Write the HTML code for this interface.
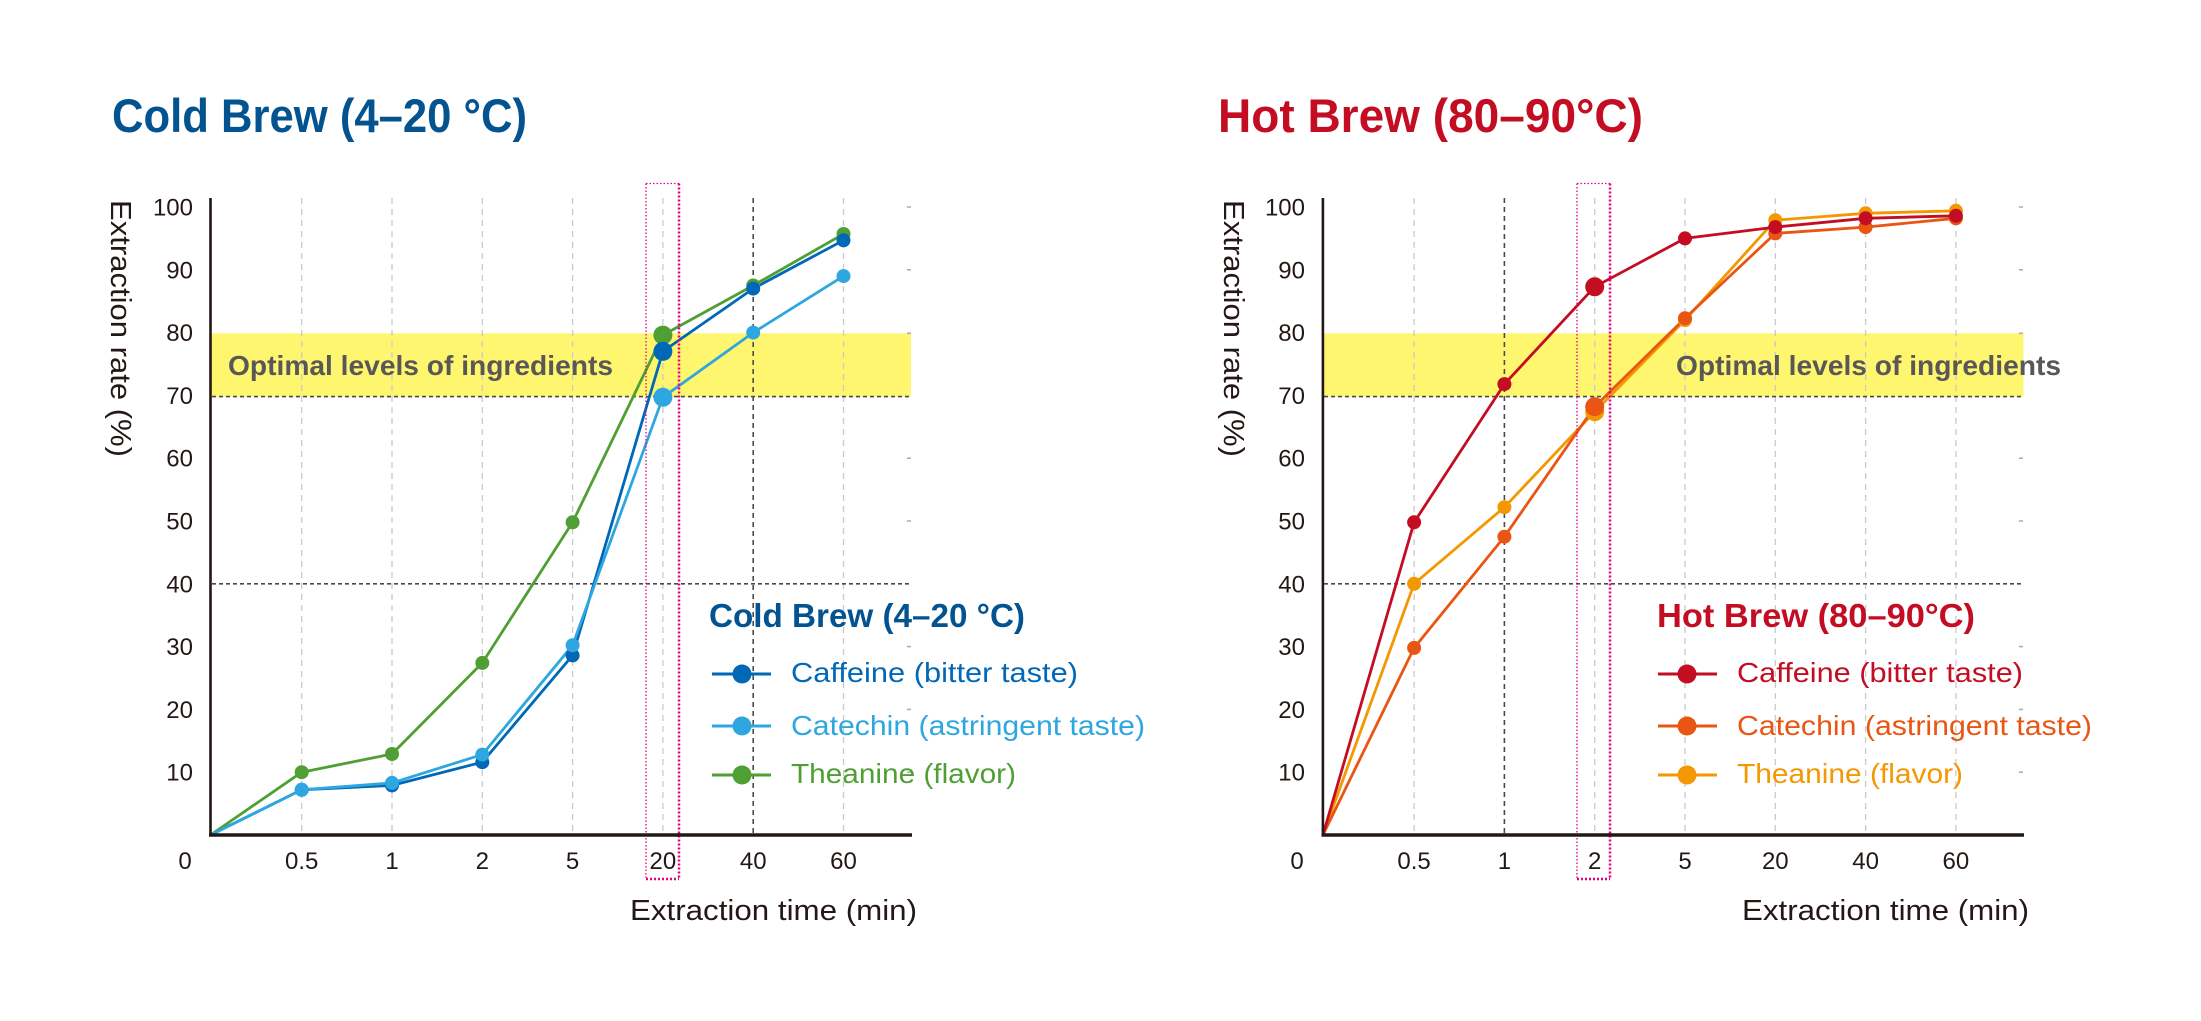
<!DOCTYPE html>
<html><head><meta charset="utf-8"><style>
html,body{margin:0;padding:0;background:#fff;}
svg{display:block;}
text{font-family:"Liberation Sans",sans-serif;}
</style></head><body>
<svg width="2201" height="1021" viewBox="0 0 2201 1021" xmlns="http://www.w3.org/2000/svg">
<rect width="2201" height="1021" fill="#fff"/>

<!-- ================= LEFT: COLD BREW ================= -->
<g id="cold">
<text x="112" y="132" font-size="47" font-weight="bold" fill="#035390" textLength="415" lengthAdjust="spacingAndGlyphs">Cold Brew (4–20 °C)</text>

<rect x="211" y="333.3" width="700" height="63.3" fill="#fff66f"/>

<g stroke="#c9caca" stroke-width="1.3" stroke-dasharray="6 5" fill="none">
<line x1="301.7" y1="198" x2="301.7" y2="835"/>
<line x1="392" y1="198" x2="392" y2="835"/>
<line x1="482.3" y1="198" x2="482.3" y2="835"/>
<line x1="572.6" y1="198" x2="572.6" y2="835"/>
<line x1="662.9" y1="198" x2="662.9" y2="835"/>
<line x1="843.5" y1="198" x2="843.5" y2="835"/>
</g>
<line x1="753.2" y1="198" x2="753.2" y2="835" stroke="#4a4a4a" stroke-width="1.6" stroke-dasharray="5 4"/>

<g stroke="#4a4a4a" stroke-width="1.6" stroke-dasharray="4 3">
<line x1="212" y1="396.6" x2="911" y2="396.6"/>
<line x1="212" y1="583.8" x2="911" y2="583.8"/>
</g>
<g stroke="#aaa" stroke-width="1.5">
<line x1="907" y1="207" x2="911" y2="207"/><line x1="907" y1="269.8" x2="911" y2="269.8"/>
<line x1="907" y1="333.3" x2="911" y2="333.3"/><line x1="907" y1="458.2" x2="911" y2="458.2"/>
<line x1="907" y1="521" x2="911" y2="521"/><line x1="907" y1="646.6" x2="911" y2="646.6"/>
<line x1="907" y1="709.4" x2="911" y2="709.4"/><line x1="907" y1="772.2" x2="911" y2="772.2"/>
</g>

<text x="228" y="375" font-size="28" font-weight="bold" fill="#595757" textLength="385" lengthAdjust="spacingAndGlyphs">Optimal levels of ingredients</text>

<g fill="none" stroke-width="2.8" stroke-linejoin="round">
<polyline stroke="#4f9f35" points="210.5,835 301.7,772.2 392,754 482.3,662.9 572.6,522.3 662.9,335.1 753.2,285.5 843.5,234"/>
<polyline stroke="#0068b7" points="210.5,835 301.7,789.8 392,785.4 482.3,762.2 572.6,655.4 662.9,351.4 753.2,288.6 843.5,240.3"/>
<polyline stroke="#2ea7e0" points="210.5,835 301.7,789.8 392,782.9 482.3,754.6 572.6,645.3 662.9,397.3 753.2,332.6 843.5,276.1"/>
</g>
<g fill="#4f9f35">
<circle cx="301.7" cy="772.2" r="7"/><circle cx="392" cy="754" r="7"/><circle cx="482.3" cy="662.9" r="7"/><circle cx="572.6" cy="522.3" r="7"/><circle cx="662.9" cy="335.1" r="9.5"/><circle cx="753.2" cy="285.5" r="7"/><circle cx="843.5" cy="234" r="7"/>
</g>
<g fill="#0068b7">
<circle cx="301.7" cy="789.8" r="7"/><circle cx="392" cy="785.4" r="7"/><circle cx="482.3" cy="762.2" r="7"/><circle cx="572.6" cy="655.4" r="7"/><circle cx="662.9" cy="351.4" r="9.5"/><circle cx="753.2" cy="288.6" r="7"/><circle cx="843.5" cy="240.3" r="7"/>
</g>
<g fill="#2ea7e0">
<circle cx="301.7" cy="789.8" r="7"/><circle cx="392" cy="782.9" r="7"/><circle cx="482.3" cy="754.6" r="7"/><circle cx="572.6" cy="645.3" r="7"/><circle cx="662.9" cy="397.3" r="9.5"/><circle cx="753.2" cy="332.6" r="7"/><circle cx="843.5" cy="276.1" r="7"/>
</g>

<g stroke="#e4007f" fill="none">
<line x1="646" y1="183.5" x2="679" y2="183.5" stroke-width="1.3" stroke-dasharray="1.5 2"/>
<line x1="646" y1="183.5" x2="646" y2="879" stroke-width="1.3" stroke-dasharray="1.5 2"/>
<line x1="679" y1="183.5" x2="679" y2="879" stroke-width="2.5" stroke-dasharray="2 2"/>
<line x1="646" y1="879" x2="679" y2="879" stroke-width="2.5" stroke-dasharray="2 2"/>
</g>

<line x1="210.5" y1="198" x2="210.5" y2="836" stroke="#231815" stroke-width="2.6"/>
<line x1="209" y1="835" x2="912" y2="835" stroke="#231815" stroke-width="3.6"/>

<g font-size="24" fill="#231815" text-anchor="end">
<text x="193" y="215.5">100</text><text x="193" y="278.3">90</text><text x="193" y="341.1">80</text><text x="193" y="403.9">70</text><text x="193" y="466.7">60</text><text x="193" y="529.5">50</text><text x="193" y="592.3">40</text><text x="193" y="655.1">30</text><text x="193" y="717.9">20</text><text x="193" y="780.7">10</text>
</g>
<g font-size="24" fill="#231815" text-anchor="middle">
<text x="185" y="869">0</text><text x="301.7" y="869">0.5</text><text x="392" y="869">1</text><text x="482.3" y="869">2</text><text x="572.6" y="869">5</text><text x="662.9" y="869">20</text><text x="753.2" y="869">40</text><text x="843.5" y="869">60</text>
</g>
<text x="630" y="920" font-size="29" fill="#231815" textLength="287" lengthAdjust="spacingAndGlyphs">Extraction time (min)</text>
<text transform="translate(111,328.5) rotate(90)" text-anchor="middle" font-size="29" fill="#231815" textLength="257" lengthAdjust="spacingAndGlyphs">Extraction rate (%)</text>

<text x="709" y="627" font-size="33" font-weight="bold" fill="#035390" textLength="316" lengthAdjust="spacingAndGlyphs">Cold Brew (4–20 °C)</text>
<line x1="712" y1="674" x2="771" y2="674" stroke="#0068b7" stroke-width="3"/><circle cx="742" cy="674" r="9.5" fill="#0068b7"/>
<text x="791" y="682" font-size="28" fill="#0068b7" textLength="287" lengthAdjust="spacingAndGlyphs">Caffeine (bitter taste)</text>
<line x1="712" y1="726" x2="771" y2="726" stroke="#2ea7e0" stroke-width="3"/><circle cx="742" cy="726" r="9.5" fill="#2ea7e0"/>
<text x="791" y="735" font-size="28" fill="#2ea7e0" textLength="354" lengthAdjust="spacingAndGlyphs">Catechin (astringent taste)</text>
<line x1="712" y1="775" x2="771" y2="775" stroke="#4f9f35" stroke-width="3"/><circle cx="742" cy="775" r="9.5" fill="#4f9f35"/>
<text x="791" y="783" font-size="28" fill="#4f9f35" textLength="225" lengthAdjust="spacingAndGlyphs">Theanine (flavor)</text>
</g>

<!-- ================= RIGHT: HOT BREW ================= -->
<g id="hot">
<text x="1218" y="132" font-size="47" font-weight="bold" fill="#c30d23" textLength="425" lengthAdjust="spacingAndGlyphs">Hot Brew (80–90°C)</text>

<rect x="1323.4" y="333.3" width="700" height="63.3" fill="#fff66f"/>

<g stroke="#c9caca" stroke-width="1.3" stroke-dasharray="6 5" fill="none">
<line x1="1414.1" y1="198" x2="1414.1" y2="835"/>
<line x1="1594.7" y1="198" x2="1594.7" y2="835"/>
<line x1="1685" y1="198" x2="1685" y2="835"/>
<line x1="1775.3" y1="198" x2="1775.3" y2="835"/>
<line x1="1865.6" y1="198" x2="1865.6" y2="835"/>
<line x1="1955.9" y1="198" x2="1955.9" y2="835"/>
</g>
<line x1="1504.4" y1="198" x2="1504.4" y2="835" stroke="#4a4a4a" stroke-width="1.6" stroke-dasharray="5 4"/>

<g stroke="#4a4a4a" stroke-width="1.6" stroke-dasharray="4 3">
<line x1="1324" y1="396.6" x2="2023" y2="396.6"/>
<line x1="1324" y1="583.8" x2="2023" y2="583.8"/>
</g>
<g stroke="#aaa" stroke-width="1.5">
<line x1="2019" y1="207" x2="2023" y2="207"/><line x1="2019" y1="269.8" x2="2023" y2="269.8"/>
<line x1="2019" y1="333.3" x2="2023" y2="333.3"/><line x1="2019" y1="458.2" x2="2023" y2="458.2"/>
<line x1="2019" y1="521" x2="2023" y2="521"/><line x1="2019" y1="646.6" x2="2023" y2="646.6"/>
<line x1="2019" y1="709.4" x2="2023" y2="709.4"/><line x1="2019" y1="772.2" x2="2023" y2="772.2"/>
</g>

<text x="1676" y="375" font-size="28" font-weight="bold" fill="#595757" textLength="385" lengthAdjust="spacingAndGlyphs">Optimal levels of ingredients</text>

<g fill="none" stroke-width="2.8" stroke-linejoin="round">
<polyline stroke="#f39800" points="1322.9,835 1414.1,583.8 1504.4,507.2 1594.7,411.7 1685,320 1775.3,220.2 1865.6,213.3 1955.9,210.8"/>
<polyline stroke="#e95513" points="1322.9,835 1414.1,647.9 1504.4,536.7 1594.7,406.7 1685,318.2 1775.3,233.4 1865.6,227.1 1955.9,218.3"/>
<polyline stroke="#c30d23" points="1322.9,835 1414.1,522.3 1504.4,384.1 1594.7,286.8 1685,238.4 1775.3,227.1 1865.6,218.3 1955.9,215.8"/>
</g>
<g fill="#f39800">
<circle cx="1414.1" cy="583.8" r="7"/><circle cx="1504.4" cy="507.2" r="7"/><circle cx="1594.7" cy="411.7" r="9.5"/><circle cx="1685" cy="320" r="7"/><circle cx="1775.3" cy="220.2" r="7"/><circle cx="1865.6" cy="213.3" r="7"/><circle cx="1955.9" cy="210.8" r="7"/>
</g>
<g fill="#e95513">
<circle cx="1414.1" cy="647.9" r="7"/><circle cx="1504.4" cy="536.7" r="7"/><circle cx="1594.7" cy="406.7" r="9.5"/><circle cx="1685" cy="318.2" r="7"/><circle cx="1775.3" cy="233.4" r="7"/><circle cx="1865.6" cy="227.1" r="7"/><circle cx="1955.9" cy="218.3" r="7"/>
</g>
<g fill="#c30d23">
<circle cx="1414.1" cy="522.3" r="7"/><circle cx="1504.4" cy="384.1" r="7"/><circle cx="1594.7" cy="286.8" r="9.5"/><circle cx="1685" cy="238.4" r="7"/><circle cx="1775.3" cy="227.1" r="7"/><circle cx="1865.6" cy="218.3" r="7"/><circle cx="1955.9" cy="215.8" r="7"/>
</g>

<g stroke="#e4007f" fill="none">
<line x1="1577" y1="183.5" x2="1610" y2="183.5" stroke-width="1.3" stroke-dasharray="1.5 2"/>
<line x1="1577" y1="183.5" x2="1577" y2="879" stroke-width="1.3" stroke-dasharray="1.5 2"/>
<line x1="1610" y1="183.5" x2="1610" y2="879" stroke-width="2.5" stroke-dasharray="2 2"/>
<line x1="1577" y1="879" x2="1610" y2="879" stroke-width="2.5" stroke-dasharray="2 2"/>
</g>

<line x1="1322.9" y1="198" x2="1322.9" y2="836" stroke="#231815" stroke-width="2.6"/>
<line x1="1321.5" y1="835" x2="2024" y2="835" stroke="#231815" stroke-width="3.6"/>

<g font-size="24" fill="#231815" text-anchor="end">
<text x="1305" y="215.5">100</text><text x="1305" y="278.3">90</text><text x="1305" y="341.1">80</text><text x="1305" y="403.9">70</text><text x="1305" y="466.7">60</text><text x="1305" y="529.5">50</text><text x="1305" y="592.3">40</text><text x="1305" y="655.1">30</text><text x="1305" y="717.9">20</text><text x="1305" y="780.7">10</text>
</g>
<g font-size="24" fill="#231815" text-anchor="middle">
<text x="1297" y="869">0</text><text x="1414.1" y="869">0.5</text><text x="1504.4" y="869">1</text><text x="1594.7" y="869">2</text><text x="1685" y="869">5</text><text x="1775.3" y="869">20</text><text x="1865.6" y="869">40</text><text x="1955.9" y="869">60</text>
</g>
<text x="1742" y="920" font-size="29" fill="#231815" textLength="287" lengthAdjust="spacingAndGlyphs">Extraction time (min)</text>
<text transform="translate(1224,328.5) rotate(90)" text-anchor="middle" font-size="29" fill="#231815" textLength="257" lengthAdjust="spacingAndGlyphs">Extraction rate (%)</text>

<text x="1657" y="627" font-size="33" font-weight="bold" fill="#c30d23" textLength="318" lengthAdjust="spacingAndGlyphs">Hot Brew (80–90°C)</text>
<line x1="1658" y1="674" x2="1717" y2="674" stroke="#c30d23" stroke-width="3"/><circle cx="1687" cy="674" r="9.5" fill="#c30d23"/>
<text x="1737" y="682" font-size="28" fill="#c30d23" textLength="286" lengthAdjust="spacingAndGlyphs">Caffeine (bitter taste)</text>
<line x1="1658" y1="726" x2="1717" y2="726" stroke="#e95513" stroke-width="3"/><circle cx="1687" cy="726" r="9.5" fill="#e95513"/>
<text x="1737" y="735" font-size="28" fill="#e95513" textLength="355" lengthAdjust="spacingAndGlyphs">Catechin (astringent taste)</text>
<line x1="1658" y1="775" x2="1717" y2="775" stroke="#f39800" stroke-width="3"/><circle cx="1687" cy="775" r="9.5" fill="#f39800"/>
<text x="1737" y="783" font-size="28" fill="#f39800" textLength="226" lengthAdjust="spacingAndGlyphs">Theanine (flavor)</text>
</g>
</svg>
</body></html>
